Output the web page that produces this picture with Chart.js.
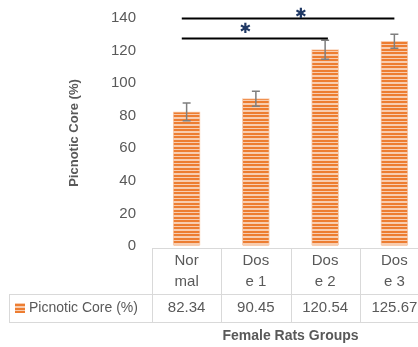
<!DOCTYPE html>
<html>
<head>
<meta charset="utf-8">
<script src="https://cdn.jsdelivr.net/npm/chart.js@4/dist/chart.umd.min.js"></script>
<style>
  html, body { margin: 0; padding: 0; background: #ffffff; overflow: hidden; }
  #wrap { width: 432px; height: 347px; position: relative; }
</style>
</head>
<body>
<div id="wrap"><canvas id="c" width="432" height="347"></canvas></div>
<script>
// Picnotic core percentage per group (female rats)
const categories = ['Normal', 'Dose 1', 'Dose 2', 'Dose 3'];
const seriesName = 'Picnotic Core (%)';
const values = [82.34, 90.45, 120.54, 125.67];
const errors = [5.5, 4.6, 5.8, 4.3];
const yTicks = [0, 20, 40, 60, 80, 100, 120, 140];
// significance brackets: category span and height in axis units
const sigFrom = [-0.07, -0.07];
const sigTo = [3.0, 2.04];
const sigLevel = [140.3, 127.7];
const sigMarkAt = [1.65, 0.85];

const TEXT = '#595959';
const GRID = '#d9d9d9';
const FONT = '"Liberation Sans", Arial, sans-serif';

function stripes(ctx) {
  const c = document.createElement('canvas');
  c.width = 1; c.height = 7;
  const g = c.getContext('2d');
  g.fillStyle = '#F8CDB0'; g.fillRect(0, 0, 1, 7);
  g.fillStyle = '#ED7D31';
  g.fillRect(0, 0, 1, 2);
  g.fillRect(0, 3, 1, 2);
  return ctx.createPattern(c, 'repeat');
}

const canvas = document.getElementById('c');
const ctx0 = canvas.getContext('2d');
const barFill = stripes(ctx0);

const extras = {
  id: 'extras',
  afterDatasetsDraw(chart) {
    const ctx = chart.ctx;
    const xs = chart.scales.x, ys = chart.scales.y;
    const area = chart.chartArea;
    const meta = chart.getDatasetMeta(0);
    ctx.save();

    // error bars
    ctx.strokeStyle = '#7F7F7F';
    ctx.lineWidth = 1.5;
    meta.data.forEach((bar, i) => {
      const x = bar.x;
      const yt = ys.getPixelForValue(values[i] + errors[i]);
      const yb = ys.getPixelForValue(values[i] - errors[i]);
      ctx.beginPath();
      ctx.moveTo(x, yt); ctx.lineTo(x, yb);
      ctx.moveTo(x - 4, yt); ctx.lineTo(x + 4, yt);
      ctx.moveTo(x - 4, yb); ctx.lineTo(x + 4, yb);
      ctx.stroke();
    });

    // significance brackets
    ctx.strokeStyle = '#000000';
    ctx.lineWidth = 2;
    sigLevel.forEach((lv, i) => {
      const y = Math.round(ys.getPixelForValue(lv)) + 0.5;
      ctx.beginPath();
      ctx.moveTo(xs.getPixelForValue(sigFrom[i]), y);
      ctx.lineTo(xs.getPixelForValue(sigTo[i]), y);
      ctx.stroke();
      ctx.fillStyle = '#1F3864';
      ctx.font = 'bold 14px "DejaVu Sans", sans-serif';
      ctx.textAlign = 'center';
      ctx.textBaseline = 'middle';
      ctx.fillText('\u2731', xs.getPixelForValue(sigMarkAt[i]), y - (i === 0 ? 4 : 9));
    });

    // data table
    const left = area.left;
    const step = (area.right - area.left) / categories.length;
    const t0 = area.bottom + 2, t1 = t0 + 46, t2 = t1 + 28;
    const legendLeft = 9;
    const W = chart.width;
    ctx.strokeStyle = GRID;
    ctx.lineWidth = 1;
    ctx.beginPath();
    ctx.moveTo(left, t0 + 0.5); ctx.lineTo(W, t0 + 0.5);
    ctx.moveTo(legendLeft, t1 + 0.5); ctx.lineTo(W, t1 + 0.5);
    ctx.moveTo(legendLeft, t2 + 0.5); ctx.lineTo(W, t2 + 0.5);
    ctx.moveTo(legendLeft + 0.5, t1); ctx.lineTo(legendLeft + 0.5, t2);
    for (let i = 0; i <= categories.length; i++) {
      const x = Math.round(left + i * step) + 0.5;
      ctx.moveTo(x, t0); ctx.lineTo(x, t2);
    }
    ctx.stroke();

    ctx.fillStyle = TEXT;
    ctx.textAlign = 'center';
    ctx.textBaseline = 'middle';
    ctx.font = '15px ' + FONT;
    categories.forEach((c, i) => {
      const cx = left + (i + 0.5) * step;
      // narrow cells wrap the name after three characters
      ctx.fillText(c.slice(0, 3), cx, t0 + 13);
      ctx.fillText(c.slice(3), cx, t0 + 34);
      ctx.fillText(values[i].toFixed(2), cx, t1 + 14);
    });

    // legend key + series name
    ctx.fillStyle = barFill;
    ctx.fillRect(15, t1 + 9, 10, 10);
    ctx.fillStyle = TEXT;
    ctx.textAlign = 'left';
    ctx.font = '14px ' + FONT;
    ctx.fillText(seriesName, 29, t1 + 14);

    // axis titles
    ctx.font = 'bold 14px ' + FONT;
    ctx.textAlign = 'center';
    ctx.fillText('Female Rats Groups', (area.left + area.right) / 2, 336);
    ctx.save();
    ctx.translate(74, (area.top + area.bottom) / 2 + 1);
    ctx.rotate(-Math.PI / 2);
    ctx.font = 'bold 13px ' + FONT;
    ctx.fillText(seriesName, 0, 0);
    ctx.restore();

    ctx.restore();
  }
};

new Chart(canvas, {
  type: 'bar',
  data: {
    labels: categories,
    datasets: [{
      label: seriesName,
      data: values,
      backgroundColor: barFill,
      borderColor: '#F8CBAD',
      borderWidth: 1,
      barThickness: 27
    }]
  },
  options: {
    responsive: false,
    animation: false,
    layout: { padding: { left: 0, right: 3, top: 18, bottom: 101 } },
    plugins: { legend: { display: false }, tooltip: { enabled: false } },
    scales: {
      x: { display: false },
      y: {
        min: 0, max: 140,
        afterBuildTicks(scale) { scale.ticks = yTicks.map(v => ({ value: v })); },
        afterFit(scale) { scale.width = 152; },
        // invisible tick marks set the gap between labels and plot
        grid: { display: true, drawOnChartArea: false, drawTicks: true, tickLength: 16, color: 'rgba(0,0,0,0)' },
        border: { display: false },
        ticks: { padding: 0, color: TEXT, font: { family: FONT, size: 15 } }
      }
    }
  },
  plugins: [extras]
});
</script>
</body>
</html>
